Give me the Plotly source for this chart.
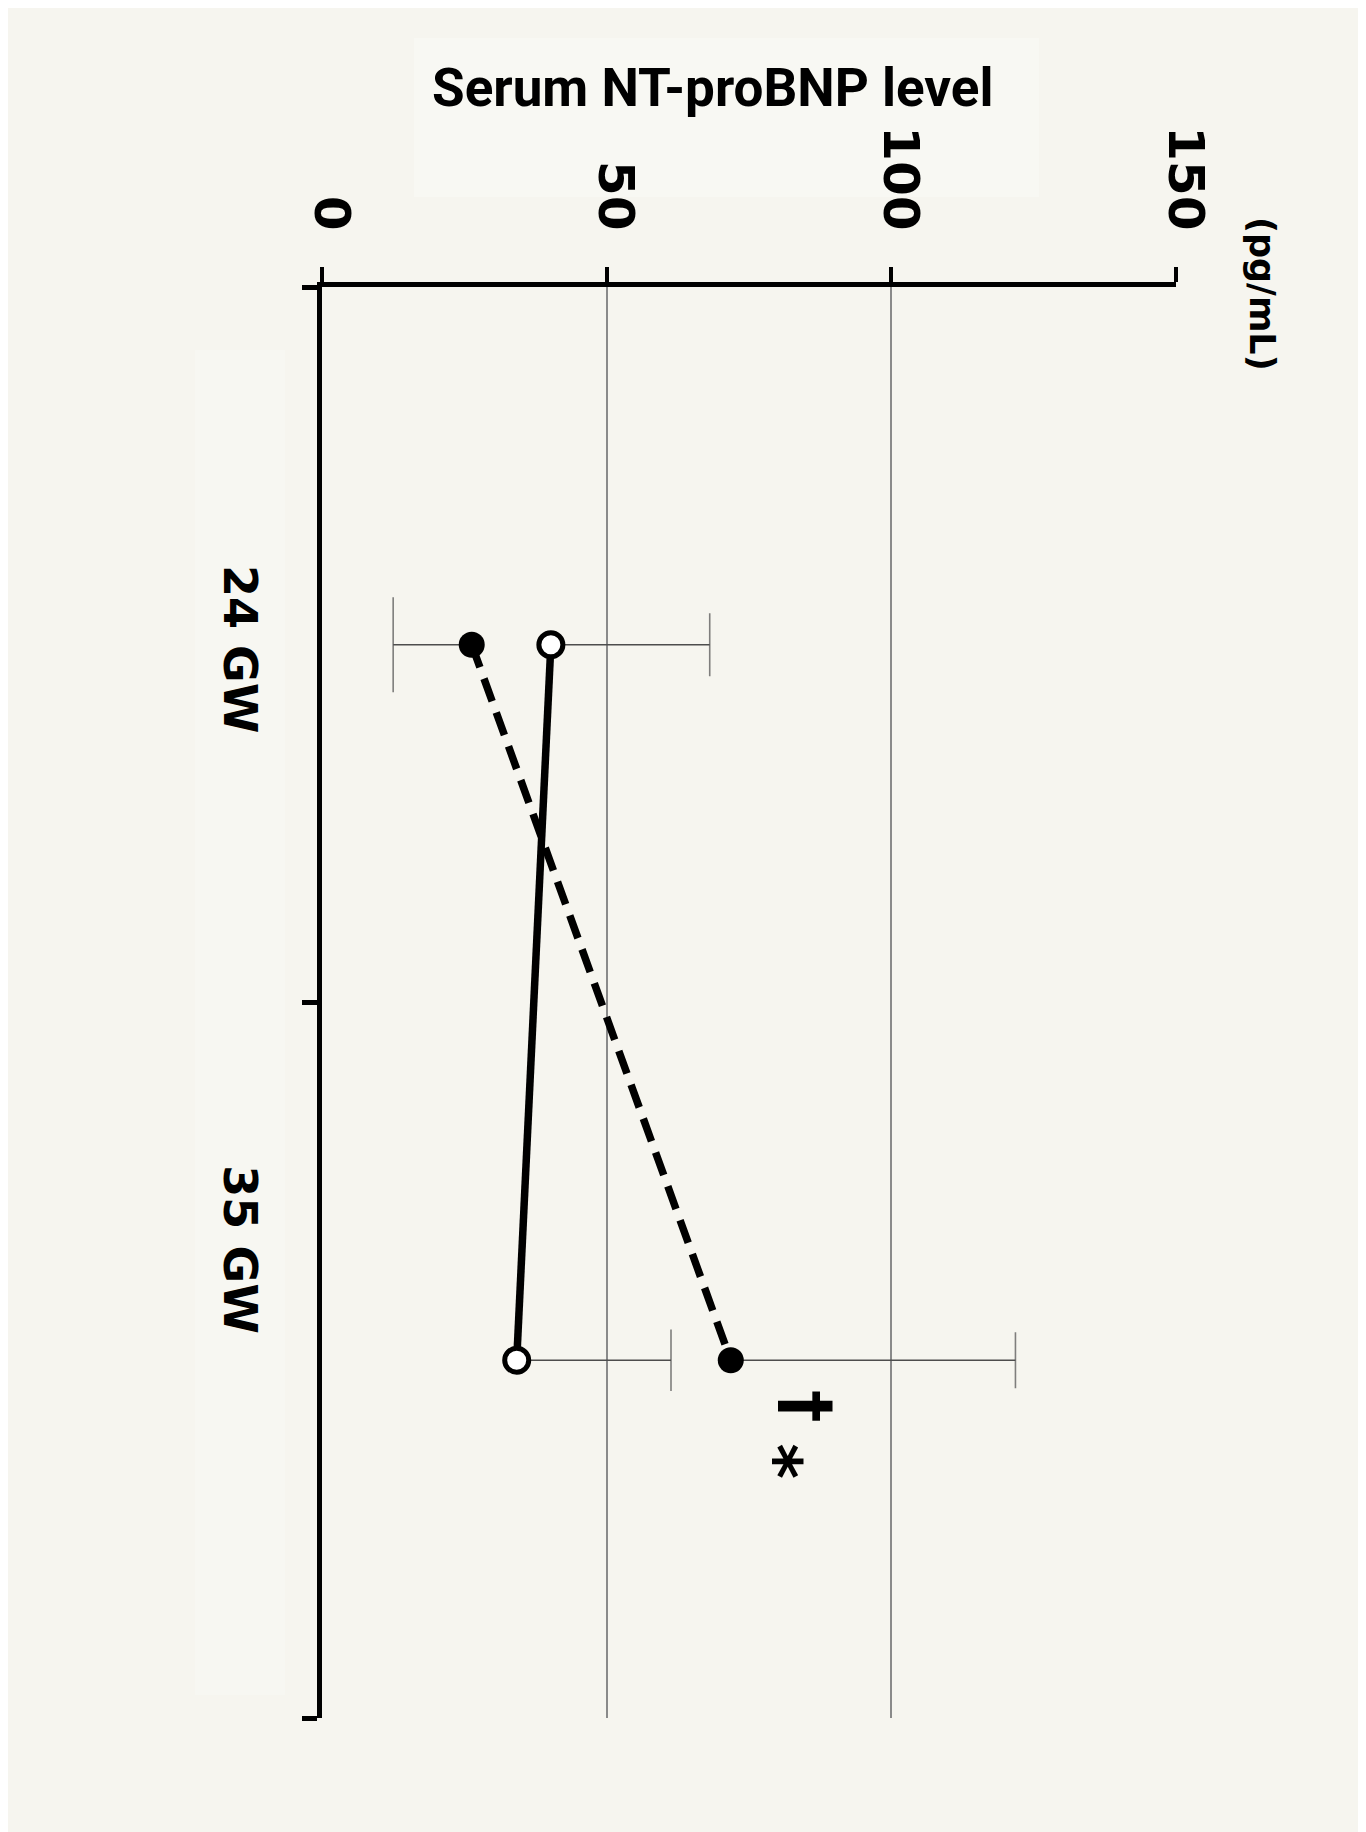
import plotly.graph_objects as go

# ---- data ----
categories = ["24 GW", "35 GW"]
open_mean = [40.2, 34.2]          # open circles, solid line
open_err_plus = [27.9, 27.1]
filled_mean = [26.3, 71.8]        # filled circles, dashed line
filled_err_minus = [13.8, 0.0]
filled_err_plus = [0.0, 50.0]
value_ticks = [0, 50, 100, 150]
marks = ["†", "*"]

ypos = list(range(len(categories)))

BG = "#f6f5ef"
ERR = "#4d4d4d"

# page offset (browser body margin) compensation
OFF = 8
W, H = 1366, 1832
ML, MR, MT, MB = 322 - OFF, 190 + OFF, 287 - OFF, 114 + OFF
pw, ph = W - ML - MR, H - MT - MB


def px2paper_x(px):
    return (px - OFF - ML) / pw


def px2paper_y(py):
    return (H - (py - OFF) - MB) / ph


fig = go.Figure()

# ---- error bars: stems via error_x (no caps) + caps as line markers ----
fig.add_trace(go.Scatter(
    x=open_mean, y=ypos, mode="markers",
    marker=dict(size=1, color="rgba(0,0,0,0)"),
    error_x=dict(type="data", symmetric=False, array=open_err_plus,
                 arrayminus=[0] * len(open_mean), color=ERR, thickness=1.6, width=0),
    hoverinfo="skip", showlegend=False))
fig.add_trace(go.Scatter(
    x=filled_mean, y=ypos, mode="markers",
    marker=dict(size=1, color="rgba(0,0,0,0)"),
    error_x=dict(type="data", symmetric=False, array=filled_err_plus,
                 arrayminus=filled_err_minus, color=ERR, thickness=1.6, width=0),
    hoverinfo="skip", showlegend=False))

open_caps_x = [m + e for m, e in zip(open_mean, open_err_plus)]
filled_caps_x = [filled_mean[0] - filled_err_minus[0], filled_mean[1] + filled_err_plus[1]]
fig.add_trace(go.Scatter(
    x=open_caps_x, y=ypos, mode="markers",
    marker=dict(symbol="line-ns", size=[45, 44], line=dict(color=ERR, width=1.6)),
    hoverinfo="skip", showlegend=False))
fig.add_trace(go.Scatter(
    x=filled_caps_x, y=ypos, mode="markers",
    marker=dict(symbol="line-ns", size=[68, 40], line=dict(color=ERR, width=1.6)),
    hoverinfo="skip", showlegend=False))

# ---- lines with markers ----
fig.add_trace(go.Scatter(
    x=filled_mean, y=ypos, mode="lines+markers",
    line=dict(color="black", width=7.5, dash="24px,12px"),
    marker=dict(size=26, color="black", line=dict(color="black", width=0)),
    showlegend=False))
fig.add_trace(go.Scatter(
    x=open_mean, y=ypos, mode="lines+markers",
    line=dict(color="black", width=7.5),
    marker=dict(size=24, color="white", line=dict(color="black", width=5)),
    showlegend=False))

annotations = []
# category labels (rotated)
label_y = [0.006, 0.845]
for cat, yy in zip(categories, label_y):
    annotations.append(dict(x=px2paper_x(240), y=yy, xref="paper", yref="y", text=cat,
                            showarrow=False, textangle=90, xanchor="center", yanchor="middle",
                            font=dict(family="DejaVu Sans", size=46, color="black", weight="bold")))
# significance marks
annotations.append(dict(x=85.0, y=1.065, xref="x", yref="y", text=marks[0], showarrow=False,
                        textangle=90, xanchor="center", yanchor="middle",
                        font=dict(family="DejaVu Sans", size=66, color="black", weight="bold")))
annotations.append(dict(x=79.8, y=1.142, xref="x", yref="y", text=marks[1], showarrow=False,
                        textangle=90, xanchor="center", yanchor="middle",
                        font=dict(family="DejaVu Sans", size=68, color="black", weight="bold")))
# title and unit
annotations.append(dict(x=px2paper_x(712), y=px2paper_y(88), xref="paper", yref="paper",
                        text="Serum NT-proBNP level", showarrow=False,
                        xanchor="center", yanchor="middle",
                        font=dict(family="Roboto", size=53, color="black", weight="bold")))
annotations.append(dict(x=px2paper_x(1262), y=px2paper_y(294), xref="paper", yref="paper",
                        text="(pg/mL)", showarrow=False, textangle=90,
                        xanchor="center", yanchor="middle",
                        font=dict(family="DejaVu Sans", size=35, color="black", weight="bold")))

shapes = [
    dict(type="rect", xref="paper", yref="paper",
         x0=px2paper_x(414), x1=px2paper_x(1039),
         y0=px2paper_y(197), y1=px2paper_y(38),
         fillcolor="#f8f8f3", line=dict(width=0), layer="below"),
    dict(type="rect", xref="paper", yref="paper",
         x0=px2paper_x(195), x1=px2paper_x(285),
         y0=px2paper_y(1695), y1=px2paper_y(350),
         fillcolor="#f7f7f2", line=dict(width=0), layer="below"),
]

fig.update_layout(
    width=W, height=H,
    margin=dict(l=ML, r=MR, t=MT, b=MB, pad=0),
    paper_bgcolor=BG, plot_bgcolor=BG,
    annotations=annotations, shapes=shapes,
    xaxis=dict(range=[0, 150], side="top", showline=True, linewidth=5, linecolor="black",
               ticks="outside", ticklen=15, tickwidth=4, tickcolor="black",
               tickvals=value_ticks, ticktext=[str(v) for v in value_ticks],
               tickangle=90, ticklabelstandoff=19, ticklabelshift=9,
               tickfont=dict(family="DejaVu Sans", size=50, color="black", weight="bold"),
               showgrid=True, gridcolor="#8a8a8a", gridwidth=1.5, zeroline=False,
               fixedrange=True),
    yaxis=dict(range=[1.5, -0.5], showline=True, linewidth=5, linecolor="black",
               ticks="outside", ticklen=15, tickwidth=5, tickcolor="black",
               tickvals=[-0.5, 0.5, 1.5], ticktext=["", "", ""],
               showgrid=False, zeroline=False, fixedrange=True),
)

fig.write_html("out.html")
